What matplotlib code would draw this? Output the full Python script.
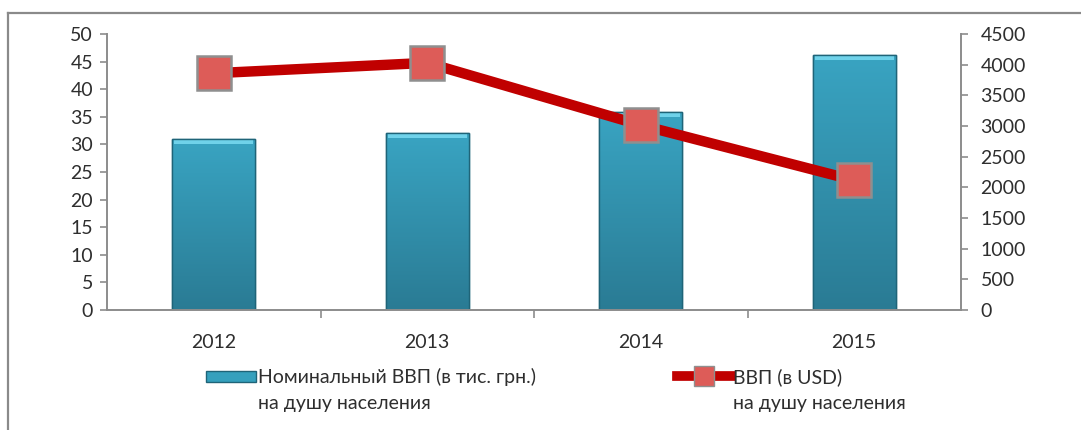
import numpy as np
import matplotlib
matplotlib.use("Agg")
import matplotlib.pyplot as plt
from matplotlib.lines import Line2D
from matplotlib.patches import Rectangle
from matplotlib.colors import LinearSegmentedColormap

plt.rcParams['font.family'] = ['Lato', 'DejaVu Sans']

years = ['2012', '2013', '2014', '2015']
gdp_uah_thousands = [30.9, 32.0, 35.8, 46.2]
gdp_usd = [3860, 4030, 3015, 2115]

label_bar = ['Номинальный ВВП (в тис. грн.)', 'на душу населения']
label_line = ['ВВП (в USD)', 'на душу населения']

W, H = 1081, 430
fig = plt.figure(figsize=(W / 100, H / 100), dpi=100)
fig.patch.set_facecolor('white')

# outer frame (left and top edges)
fig.add_artist(Line2D([8 / W, 8 / W], [0, 1 - 13 / H], transform=fig.transFigure,
                      color='#8a8a8a', lw=1.6))
fig.add_artist(Line2D([8 / W, 1], [1 - 13 / H, 1 - 13 / H], transform=fig.transFigure,
                      color='#8a8a8a', lw=1.6))

ax = fig.add_axes([107 / W, 1 - 310 / H, (961 - 107) / W, (310 - 34) / H])
ax2 = ax.twinx()

spine_c = '#8c8c8c'
text_c = '#2e2e2e'
x = np.arange(len(years))

bars = ax.bar(x, gdp_uah_thousands, width=0.39, color='#2f93b0',
              edgecolor='#226c82', linewidth=1.0, zorder=2)

# vertical shading inside each bar
cmap = LinearSegmentedColormap.from_list('tealgrad', ['#2a7b94', '#39a4c2'])
grad = np.linspace(0, 1, 256).reshape(-1, 1)
for b in bars:
    x0, y0 = b.get_x(), b.get_y()
    w, h = b.get_width(), b.get_height()
    im = ax.imshow(grad, cmap=cmap, aspect='auto', origin='lower',
                   extent=(x0, x0 + w, y0, y0 + h), zorder=2.1)
    im.set_clip_path(b)
    # light bevel along the top
    ax.add_patch(Rectangle((x0 + 0.01, y0 + h - 0.9), w - 0.02, 0.9,
                           facecolor='#6fd2ea', edgecolor='none', zorder=2.2))
    ax.add_patch(Rectangle((x0, y0), w, h, facecolor='none',
                           edgecolor='#1f6478', linewidth=1.0, zorder=2.3))

ax.set_xlim(-0.5, len(years) - 0.5)
ax.set_ylim(0, 50)
ax.set_yticks(np.arange(0, 51, 5))
ax.set_xticks(x)
ax.set_xticklabels(years)
ax.set_xticks(np.arange(0.5, len(years) - 0.5, 1), minor=True)
ax.tick_params(axis='x', which='major', length=0, pad=17, labelsize=14, labelcolor=text_c)
ax.tick_params(axis='x', which='minor', length=6, direction='out', color=spine_c, width=1.2)
ax.tick_params(axis='y', length=5, direction='out', color=spine_c, width=1.2,
               labelsize=14, labelcolor=text_c, pad=5)
for s in ['top', 'right']:
    ax.spines[s].set_visible(False)
for s in ['left', 'bottom']:
    ax.spines[s].set_color(spine_c)
    ax.spines[s].set_linewidth(1.4)

line, = ax2.plot(x, gdp_usd, color='#c00000', lw=7.5, solid_capstyle='butt',
                 marker='s', markersize=24, markerfacecolor='#dd5c58',
                 markeredgecolor='#8f8f8f', markeredgewidth=1.8, zorder=5)
ax2.set_ylim(0, 4500)
ax2.set_yticks(np.arange(0, 4501, 500))
ax2.tick_params(axis='y', length=5, direction='out', color=spine_c, width=1.2,
                labelsize=14, labelcolor=text_c, pad=9)
for s in ['top', 'left', 'bottom']:
    ax2.spines[s].set_visible(False)
ax2.spines['right'].set_color(spine_c)
ax2.spines['right'].set_linewidth(1.4)

# legends: handle next to the first line, second line aligned under the text
blank = Line2D([], [], color='none')
bar_handle = Rectangle((0, 0), 1, 1, facecolor='#35a0bd', edgecolor='#1f6478')
line_handle = Line2D([], [], color='#c00000', lw=7, marker='s', markersize=14,
                     markerfacecolor='#dd5c58', markeredgecolor='#8f8f8f')
common = dict(frameon=False, fontsize=14, handletextpad=0.1, borderaxespad=0,
              labelspacing=0.45, borderpad=0, labelcolor=text_c)
fig.legend([bar_handle, blank], label_bar, loc='upper left', handlelength=2.55,
           bbox_to_anchor=(206 / W, 1 - 368 / H), handleheight=0.5, **common)
fig.legend([line_handle, blank], label_line, loc='upper left', handlelength=2.8,
           bbox_to_anchor=(677 / W, 1 - 368 / H), **common)

fig.savefig('out.png', dpi=100, facecolor='white')
